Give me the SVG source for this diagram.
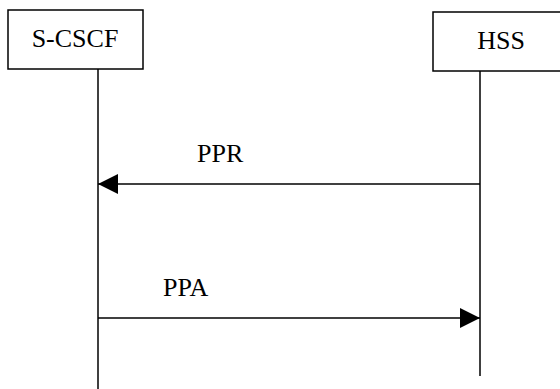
<svg xmlns="http://www.w3.org/2000/svg" width="560" height="389" viewBox="0 0 560 389">
<style>
.box{fill:#fff;stroke:#000;stroke-width:1.5}
.life{stroke:#000;stroke-width:1.5;fill:none}
.msg{stroke:#000;stroke-width:1.5;fill:none}
.t{font-family:'Liberation Serif','Times New Roman',serif;font-size:26px;fill:#000}
</style>
<defs>
<marker id="ah" viewBox="0 0 20 20" refX="20" refY="10" markerWidth="20" markerHeight="20" markerUnits="userSpaceOnUse" orient="auto">
<path d="M0,0 L20,10 L0,20 Z" fill="#000"/>
</marker>
</defs>
<g id="scscf">
<rect class="box" x="8" y="10" width="135" height="59"/>
<text class="t" font-family="Liberation Serif, serif" x="75" y="47" text-anchor="middle">S-CSCF</text>
<line class="life" x1="98" y1="69" x2="98" y2="389"/>
</g>
<g id="hss">
<rect class="box" x="433" y="12" width="140" height="59"/>
<text class="t" font-family="Liberation Serif, serif" x="501" y="49" text-anchor="middle">HSS</text>
<line class="life" x1="480" y1="71" x2="480" y2="376"/>
</g>
<g id="connectors">
<line class="msg" x1="480" y1="184" x2="98" y2="184" marker-end="url(#ah)"/>
<text class="t" font-family="Liberation Serif, serif" x="197" y="162">PPR</text>
<line class="msg" x1="98" y1="318" x2="480" y2="318" marker-end="url(#ah)"/>
<text class="t" font-family="Liberation Serif, serif" x="163" y="296">PPA</text>
</g>
</svg>
